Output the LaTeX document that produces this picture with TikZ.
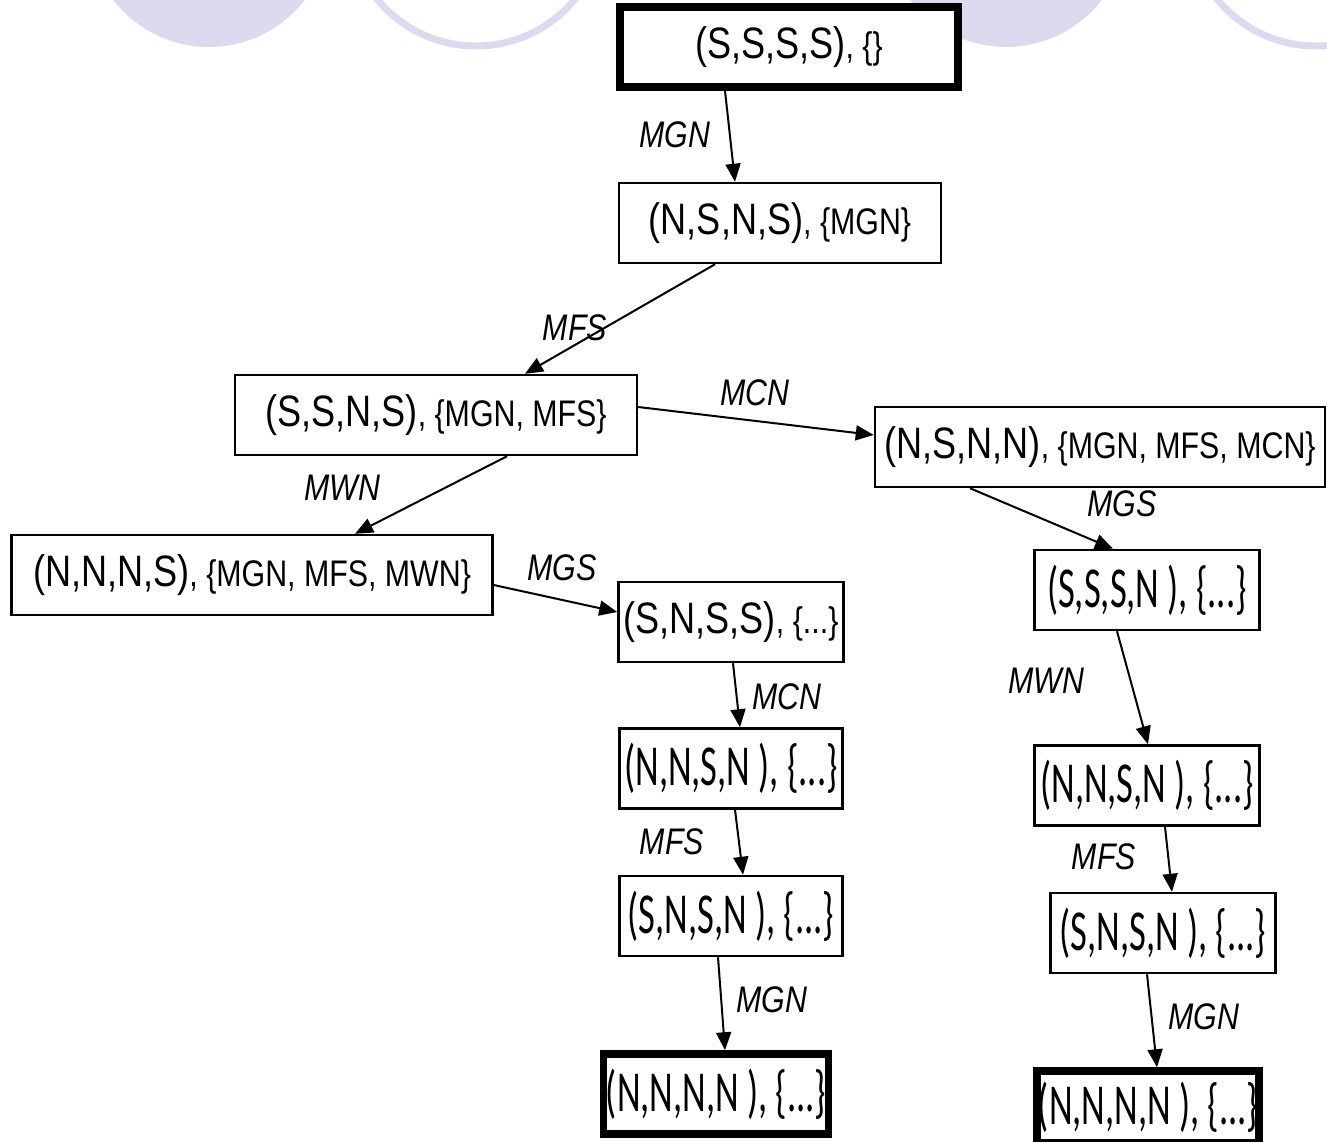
\documentclass[tikz,border=0pt]{standalone}
\usepackage{fontspec}
\setmainfont{Liberation Sans}
\usetikzlibrary{arrows.meta,positioning}
\newfontfamily\narrowsans[FakeStretch=0.82]{Liberation Sans}
\newfontfamily\narrowcal[FakeStretch=0.63]{Carlito}
\definecolor{bglav}{RGB}{220,218,238}
\newcommand{\tpl}[1]{{\fontsize{44}{44}\selectfont #1}}
\newcommand{\acts}[1]{{\fontsize{37}{37}\selectfont #1}}
\newcommand{\calstate}[1]{{\narrowcal\fontsize{58}{58}\selectfont\makebox[0pt]{#1}}}

\begin{document}
\begin{tikzpicture}[
      x=1pt,y=1pt,
      state/.style={rectangle,draw=black,fill=white,line width=2.5pt,
                    minimum width=223pt,minimum height=80pt,inner sep=0pt,font=\narrowsans},
      goal/.style={state,line width=7.5pt},
      mv/.style={font=\narrowsans\itshape\fontsize{37}{37}\selectfont,inner sep=0pt},
      a/.style={-{Triangle[length=18pt,width=15pt]},line width=2pt,draw=black}]
    \useasboundingbox (0,0) rectangle (1327,-1142);
    % background circles
    \fill[bglav] (209,74) circle (121pt);
    \draw[bglav,line width=7pt] (476,82) circle (128pt);
    \fill[bglav] (1006,74) circle (121pt);
    \draw[bglav,line width=7pt] (1316,82) circle (128pt);
    % states
    \node[goal,minimum width=338pt] (ssss) at (789,-47) {\tpl{(S,S,S,S)}\acts{, \{\}}};
    \node[state,minimum width=322pt] (nsns) at (780,-223) {\tpl{(N,S,N,S)}\acts{, \{MGN\}}};
    \node[state,minimum width=402pt] (ssns) at (436,-415) {\tpl{(S,S,N,S)}\acts{, \{MGN, MFS\}}};
    \node[state,minimum width=450pt] (nsnn) at (1100,-447) {\tpl{(N,S,N,N)}\acts{, \{MGN, MFS, MCN\}}};
    \node[state,minimum width=481pt] (nnns) at (252,-575) {\tpl{(N,N,N,S)}\acts{, \{MGN, MFS, MWN\}}};
    % left branch
    \node[state,minimum width=225pt] (snss) at (731,-622) {\tpl{(S,N,S,S)}\acts{, \{...\}}};
    \node[state,below=64pt of snss] (nnsnL) {\calstate{(N,N,S,N ), \{...\}}};
    \node[state,below=65pt of nnsnL] (snsnL) {\calstate{(S,N,S,N ), \{...\}}};
    \node[goal,minimum width=225pt,below=93pt of snsnL,xshift=-15pt] (goalL) {\calstate{(N,N,N,N ), \{...\}}};
    % right branch
    \node[state,minimum width=225pt] (sssn) at (1147,-590) {\calstate{(S,S,S,N ), \{...\}}};
    \node[state,minimum width=225pt,below=113pt of sssn] (nnsnR) {\calstate{(N,N,S,N ), \{...\}}};
    \node[state,minimum width=225pt,below=65pt of nnsnR,xshift=16pt] (snsnR) {\calstate{(S,N,S,N ), \{...\}}};
    \node[goal,minimum width=222pt,minimum height=72pt,below=93pt of snsnR,xshift=-15pt] (goalR) {\calstate{(N,N,N,N ), \{...\}}};
    % moves
    \draw[a] ([xshift=-64pt]ssss.south) -- ([xshift=-45pt]nsns.north);
    \draw[a] ([xshift=-65pt]nsns.south) -- ([xshift=89pt]ssns.north);
    \draw[a] ([yshift=8pt]ssns.east) -- ([yshift=12pt]nsnn.west);
    \draw[a] ([xshift=71pt]ssns.south) -- ([xshift=103pt]nnns.north);
    \draw[a] ([yshift=-10pt]nnns.east) -- ([yshift=10pt]snss.west);
    \draw[a] ([xshift=-130pt]nsnn.south) -- ([xshift=-34pt]sssn.north);
    \draw[a] ([xshift=2pt]snss.south) -- ([xshift=9pt]nnsnL.north);
    \draw[a] ([xshift=4pt]nnsnL.south) -- ([xshift=12pt]snsnL.north);
    \draw[a] ([xshift=-13pt]snsnL.south) -- ([xshift=9pt]goalL.north);
    \draw[a] ([xshift=-30pt]sssn.south) -- ([xshift=1pt]nnsnR.north);
    \draw[a] ([xshift=18pt]nnsnR.south) -- ([xshift=9pt]snsnR.north);
    \draw[a] ([xshift=-16pt]snsnR.south) -- ([xshift=9pt]goalR.north);
    % move labels
    \node[mv] (m1) at (675,-135) {MGN};
    \node[mv] (m2) at (575,-328) {MFS};
    \node[mv] (m3) at (755,-393) {MCN};
    \node[mv] (m4) at (342,-488) {MWN};
    \node[mv] (m5) at (562,-568) {MGS};
    \node[mv] (m6) at (1122,-504) {MGS};
    \node[mv] (m7) at (787,-697) {MCN};
    \node[mv] (m8) at (1046,-681) {MWN};
    \node[mv] (m9) at (672,-842) {MFS};
    \node[mv] (m10) at (1104,-857) {MFS};
    \node[mv] (m11) at (772,-1000) {MGN};
    \node[mv] (m12) at (1204,-1017) {MGN};
\end{tikzpicture}
\end{document}
